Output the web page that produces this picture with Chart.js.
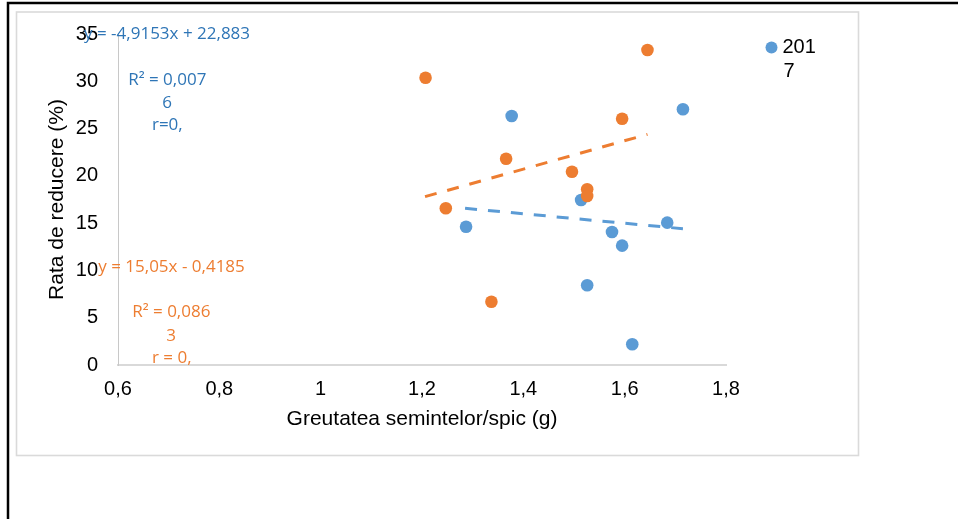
<!DOCTYPE html>
<html>
<head>
<meta charset="utf-8">
<title>Rata de reducere</title>
<script src="https://cdn.jsdelivr.net/npm/chart.js@4/dist/chart.umd.min.js"></script>
<style>
  html, body { margin: 0; padding: 0; background: #ffffff; }
  #chart { display: block; }
</style>
</head>
<body>
<canvas id="chart" width="958" height="519"></canvas>
<script>
/* ===================================================
   Scatter: Rata de reducere vs Greutatea semintelor
   =================================================== */

// --- Data ---
const seriesNames = ["2017", "2018"];

const x2017 = [1.287, 1.377, 1.514, 1.526, 1.575, 1.595, 1.615, 1.684, 1.715];
const y2017 = [14.62, 26.33, 17.45, 8.43, 14.06, 12.62, 2.19, 15.05, 27.04];

const x2018 = [1.207, 1.247, 1.337, 1.366, 1.496, 1.526, 1.526, 1.595, 1.645];
const y2018 = [30.38, 16.57, 6.69, 21.81, 20.44, 18.58, 17.87, 26.04, 33.31];

// trend line end points
const trendX2017 = [1.285, 1.715];
const trendY2017 = [16.57, 14.41];
const trendX2018 = [1.206, 1.645];
const trendY2018 = [17.8, 24.39];

// ticks
const xTickValues = [0.6, 0.8, 1, 1.2, 1.4, 1.6, 1.8];
const xTickLabels = ["0,6", "0,8", "1", "1,2", "1,4", "1,6", "1,8"];
const yTickValues = [0, 5, 10, 15, 20, 25, 30, 35];
const yTickLabels = ["0", "5", "10", "15", "20", "25", "30", "35"];

const xTitle = "Greutatea semintelor/spic (g)";
const yTitle = "Rata de reducere (%)";

// trend line labels (anchored in data units)
const labelTexts = [
    "y = -4,9153x + 22,883", "R² = 0,007", "6", "r=0,",
    "y = 15,05x - 0,4185", "R² = 0,086", "3", "r = 0,"
];
const labelX = [0.533, 0.620, 0.697, 0.667, 0.561, 0.628, 0.705, 0.667];
const labelY = [35.0, 30.14, 27.7, 25.38, 10.36, 5.6, 3.07, 0.74];
const labelAlign = ["left", "left", "center", "left", "left", "left", "center", "left"];
const labelSeries = [0, 0, 0, 0, 1, 1, 1, 1];

// --- Styles ---
const BLUE = "#5B9BD5";
const ORANGE = "#ED7D31";
const AXIS_GRAY = "#d9d9d9";
const FONT = "'Liberation Sans', Arial, sans-serif";

function toPoints(xs, ys) {
    return xs.map(function (x, i) { return { x: x, y: ys[i] }; });
}

// ===================================================
// Frame, trend labels and legend (plugins)
// ===================================================
const framePlugin = {
    id: "frame",
    beforeDraw: function (chart) {
        const ctx = chart.ctx;
        ctx.save();
        ctx.fillStyle = "#ffffff";
        ctx.fillRect(0, 0, chart.width, chart.height);
        // outer black lines
        ctx.strokeStyle = "#000000";
        ctx.lineWidth = 2.5;
        ctx.beginPath();
        ctx.moveTo(8, chart.height);
        ctx.lineTo(8, 3);
        ctx.lineTo(chart.width, 3);
        ctx.stroke();
        // chart box
        ctx.strokeStyle = "#dadada";
        ctx.lineWidth = 1.6;
        ctx.strokeRect(16.5, 12, 842, 443.5);
        ctx.restore();
    }
};

const labelsPlugin = {
    id: "trendLabels",
    afterDraw: function (chart) {
        const ctx = chart.ctx;
        const xs = chart.scales.x;
        const ys = chart.scales.y;
        ctx.save();
        ctx.font = "17px 'Open Sans', sans-serif";
        ctx.textBaseline = "middle";
        labelTexts.forEach(function (txt, i) {
            ctx.fillStyle = labelSeries[i] === 0 ? "#2E75B6" : ORANGE;
            ctx.textAlign = labelAlign[i];
            ctx.fillText(txt, xs.getPixelForValue(labelX[i]), ys.getPixelForValue(labelY[i]));
        });

        // legend: only the first series fits, its name wraps
        const lx = chart.chartArea.right + 45.5;
        const ly = chart.chartArea.top + 13.5;
        ctx.fillStyle = BLUE;
        ctx.beginPath();
        ctx.arc(lx, ly, 6, 0, Math.PI * 2);
        ctx.fill();
        ctx.fillStyle = "#000000";
        ctx.font = "20px " + FONT;
        ctx.textAlign = "left";
        ctx.fillText(seriesNames[0].slice(0, 3), lx + 11, ly);
        ctx.fillText(seriesNames[0].slice(3), lx + 12, ly + 24);
        ctx.restore();
    }
};

// ===================================================
// Chart
// ===================================================
new Chart(document.getElementById("chart").getContext("2d"), {
    type: "scatter",
    data: {
        datasets: [
            {
                label: seriesNames[0],
                data: toPoints(x2017, y2017),
                backgroundColor: BLUE,
                borderWidth: 0,
                pointRadius: 6.3,
                order: 4
            },
            {
                label: seriesNames[1],
                data: toPoints(x2018, y2018),
                backgroundColor: ORANGE,
                borderWidth: 0,
                pointRadius: 6.3,
                order: 3
            },
            {
                label: "trend " + seriesNames[0],
                data: toPoints(trendX2017, trendY2017),
                showLine: true,
                borderColor: BLUE,
                borderWidth: 3,
                borderDash: [12, 11],
                pointRadius: 0,
                order: 2
            },
            {
                label: "trend " + seriesNames[1],
                data: toPoints(trendX2018, trendY2018),
                showLine: true,
                borderColor: ORANGE,
                borderWidth: 3,
                borderDash: [12, 11],
                pointRadius: 0,
                order: 1
            }
        ]
    },
    options: {
        responsive: false,
        devicePixelRatio: 1,
        animation: false,
        layout: { padding: { left: 45, top: 34, right: 232, bottom: 87 } },
        plugins: {
            legend: { display: false },
            tooltip: { enabled: false }
        },
        scales: {
            x: {
                type: "linear",
                min: 0.6,
                max: 1.8,
                afterFit: function (s) { s.height = 67; },
                afterBuildTicks: function (s) {
                    s.ticks = xTickValues.map(function (v) { return { value: v }; });
                },
                ticks: {
                    padding: 12,
                    color: "#000000",
                    font: { family: FONT, size: 20 },
                    callback: function (v, i) { return xTickLabels[i]; }
                },
                grid: { display: false, drawTicks: false },
                border: { display: true, color: AXIS_GRAY, width: 2 },
                title: {
                    display: true,
                    text: xTitle,
                    color: "#000000",
                    padding: 0,
                    font: { family: FONT, size: 21 }
                }
            },
            y: {
                type: "linear",
                min: 0,
                max: 35,
                afterFit: function (s) { s.width = 73; },
                afterBuildTicks: function (s) {
                    s.ticks = yTickValues.map(function (v) { return { value: v }; });
                },
                ticks: {
                    padding: 20,
                    color: "#000000",
                    font: { family: FONT, size: 20 },
                    callback: function (v, i) { return yTickLabels[i]; }
                },
                grid: { display: false, drawTicks: false },
                border: { display: true, color: "#c8c8c8", width: 1 },
                title: {
                    display: true,
                    text: yTitle,
                    color: "#000000",
                    padding: 0,
                    font: { family: FONT, size: 21 }
                }
            }
        }
    },
    plugins: [framePlugin, labelsPlugin]
});
</script>
</body>
</html>
